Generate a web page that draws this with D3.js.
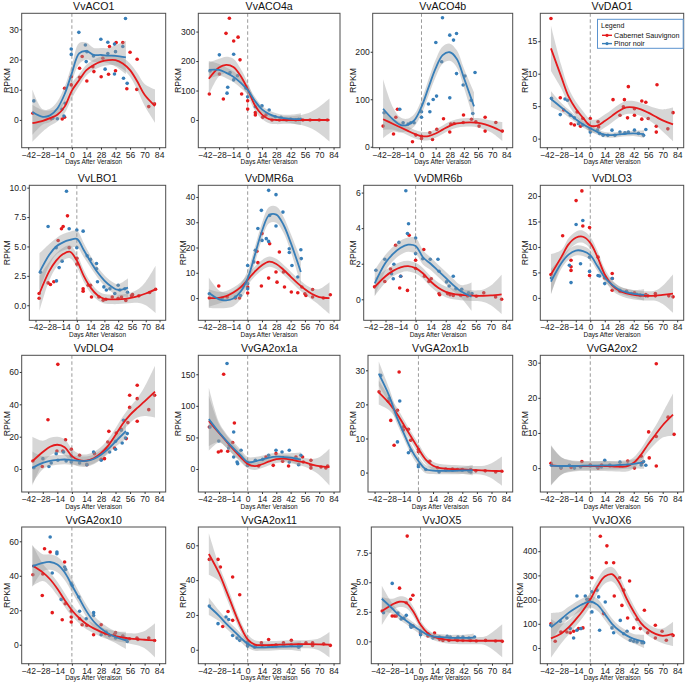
<!DOCTYPE html>
<html><head><meta charset="utf-8">
<script src="https://cdn.jsdelivr.net/npm/d3@7"></script>
<style>body{margin:0;background:#fff}svg text{font-family:"Liberation Sans",Arial,Helvetica,sans-serif}</style>
</head><body><svg id="c" width="685" height="685"></svg>
<script>
const genes = ["VvACO1","VvACO4a","VvACO4b","VvDAO1","VvLBO1","VvDMR6a","VvDMR6b","VvDLO3","VvDLO4","VvGA2ox1a","VvGA2ox1b","VvGA2ox2","VvGA2ox10","VvGA2ox11","VvJOX5","VvJOX6"];
const seriesNames = ["Cabernet Sauvignon","Pinor noir"];
const dayTicks = [-42,-28,-14,0,14,28,42,56,70,84];
const dayDomain = [-48.3,90.3];
const csDays = [-38,-28,-21,-14,-7,0,7,14,21,28,35,42,49,56,63,70,80];
const pnDays = [-38,-28,-21,-14,-7,0,7,14,21,28,35,42,52];
const yTicks = [[0,10,20,30],[0,100,200,300],[0,100,200],[0,5,10,15],[0,2.5,5,7.5,10],[0,10,20,30,40],[0,2,4,6],[0,5,10,15,20],[0,20,40,60],[0,50,100,150],[0,10,20,30],[0,10,20,30],[0,20,40,60],[0,20,40,60],[0,2.5,5,7.5],[0,100,200,300,400]];
const yDomains = [[-9.2,35.3],[-94,362],[-2,281],[-1.4,19.3],[-1.28,10.2],[-8.8,44.6],[-1.18,6.41],[-4.4,22.1],[-14.2,70.3],[-36.4,180],[-5.7,34.4],[-6.8,32.1],[-11,68.3],[-8,70.5],[-1.89,9.67],[-65,500]];

// Cabernet Sauvignon loess fit and band half-width at csDays
const csFit = [
[-1.1,-0.3,0.6,1.7,4.4,9.7,13.2,16.5,18.2,19.3,19.8,19.8,18.7,16.5,12.7,8.3,4.6],
[140,178,187,180,150,105,50,18,3,0,0,0,0,0,0,0,0],
[58,48,41,34,27,22.5,22.5,28,36,44,49,51,51.5,50.5,47,42,32],
[13.9,9.5,6.5,4.6,3.2,2.0,2.0,2.7,3.5,4.3,4.8,4.8,4.5,4.0,3.4,2.8,2.2],
[1.0,2.9,3.8,4.35,4.55,3.8,2.5,1.5,0.85,0.55,0.5,0.5,0.55,0.65,0.8,1.0,1.35],
[0,0.1,0.8,2.2,4.2,7.2,10.5,13,14.4,13.5,11.2,8.5,5.8,3.5,1.6,0.4,0.0],
[0.7,1.3,1.6,1.8,1.87,1.75,1.45,1.0,0.65,0.42,0.3,0.25,0.22,0.2,0.2,0.22,0.28],
[4.6,8.0,10.5,11.8,12.0,10.8,8.0,4.6,2.5,1.4,0.9,0.6,0.45,0.4,0.45,0.6,0.85],
[4.8,10.5,13.8,15.0,13.5,8.0,5.5,5.2,6.7,9.8,14.5,21,28,33.5,37.8,41.8,47.8],
[76,57,44,31,19,8,4.5,7.5,12,15.5,16.5,15,12.5,10.5,7,4.5,3],
[23.5,20.3,17.5,14.0,10.5,7.0,3.8,2.0,1.3,1.1,1.0,0.9,0.8,0.7,0.6,0.5,0.4],
[0.8,0.6,0.6,0.6,0.6,0.6,0.6,0.6,0.5,0.4,0.5,1.5,3.8,6.8,9.5,12.2,15.2],
[46,42,38,32.5,26,20,15.5,12,9.5,7.5,6,5,4.2,3.6,3.2,2.9,2.5],
[55,44,34,23.5,13.5,6,3,2.6,2.7,2.8,3,3.1,3.2,3.2,3.2,3.1,2.9],
[2.55,3.1,3.35,3.25,2.5,1.4,0.7,0.35,0.2,0.1,0.08,0.06,0.05,0.05,0.05,0.05,0.05],
[40,60,85,118,155,200,255,295,305,270,205,150,103,75,58,50,58]];
const csSe = [
[6.1,3.5,2.5,2.2,2.2,2.5,2.0,1.8,1.7,1.7,1.7,1.8,1.9,2.2,2.8,3.6,5.5],
[55,30,28,28,25,22,18,15,14,14,13,13,15,20,30,45,73],
[22,12,10,9,9,9,9,9,9,9,9,9,9,10,11,13,20],
[3.5,1.8,1.3,1.1,1.0,1.0,1.0,1.0,1.0,1.0,1.0,1.0,1.0,1.1,1.3,1.7,2.6],
[1.5,0.8,0.6,0.55,0.55,0.55,0.5,0.45,0.4,0.4,0.4,0.4,0.4,0.45,0.6,1.0,2.0],
[3.5,2.3,2,2,2,2,2,2,2,2,2,2,2,2,2.3,3.2,6.3],
[0.5,0.35,0.3,0.3,0.3,0.3,0.3,0.3,0.3,0.3,0.3,0.3,0.3,0.3,0.35,0.55,1.1],
[4,1.4,1.2,1.2,1.2,1.2,1.2,1.1,1.0,0.9,0.9,0.9,0.9,0.9,1.0,1.8,3.8],
[15.2,7,5.5,5,5,4.5,4,3.8,3.8,3.8,4,4.2,4.5,5,6,9,16],
[40,14,10,9,8,7,6,6,6,6,6,6,6,7,9,14,29],
[3.5,2,1.8,1.6,1.5,1.5,1.3,1.2,1.2,1.2,1.2,1.2,1.2,1.2,1.4,2.2,4.3],
[5.8,2.5,1.8,1.5,1.4,1.4,1.4,1.4,1.4,1.4,1.5,1.6,1.7,2,2.5,3.5,6],
[12,5,4,4,4,3.5,3,3,2.8,2.8,2.8,2.8,2.8,3,3.5,5,9.9],
[11.9,4.5,4,3.5,3,2.8,2.5,2.3,2.3,2.3,2.3,2.3,2.3,2.3,2.5,3.5,7.3],
[1.2,0.5,0.45,0.45,0.4,0.35,0.3,0.3,0.3,0.3,0.3,0.3,0.3,0.3,0.35,0.7,1.4],
[80,40,30,28,28,30,30,30,30,30,28,26,24,24,25,30,50]];

// Pinot noir loess fit and band half-width at pnDays
const pnFit = [
[2.6,1.0,1.5,3.8,8.5,15.5,22,22.8,21.5,21.5,21.3,21.2,20.7],
[170,170,160,147,127,102,65,36,20,11,6,4,3],
[80,57,46,46,56,84,125,165,193,199,185,145,85],
[6.1,4.8,3.9,3.0,2.2,1.6,1.0,0.6,0.55,0.65,0.75,0.8,0.7],
[2.8,4.3,5.0,5.35,5.55,5.65,4.7,3.7,2.8,2.1,1.6,1.3,1.5],
[2.1,-0.5,-0.9,-0.2,2.5,7.8,17,26.5,32.8,33,29,22,10.3],
[0.9,2.05,2.55,2.9,3.07,3.0,2.35,2.0,1.6,1.2,0.8,0.45,0.15],
[3.2,6.8,8.5,9.3,9.2,8.4,6.2,4.0,2.6,1.6,1.1,0.8,0.6],
[0.8,3.8,5.0,5.6,5.9,5.5,5.0,5.0,6.2,8.8,12.5,17.0,23.5],
[79,58,45,33,22,11,12,15,18,19.5,19,18,15],
[29,22.5,16.5,11.5,6.8,3.4,1.0,0.6,0.5,0.5,0.5,0.6,0.7],
[0.7,0.6,0.6,0.6,0.7,0.7,0.7,0.8,0.8,0.9,1.0,1.2,1.6],
[45.5,47.5,48,46.5,42,34.5,27,19.5,13.5,9.5,6.5,4.5,2.5],
[25,19.5,15,11,7,3.4,1.5,1.4,1.5,1.7,1.8,1.9,2.0],
[3.6,2.8,2.2,1.75,1.3,0.9,0.55,0.4,0.35,0.3,0.3,0.3,0.32],
[85,120,145,165,182,192,178,140,100,72,52,38,27]];
const pnSe = [
[7.5,2.5,2.2,2.3,2.5,2.8,3.5,2.8,2.3,2.3,2.5,3.5,5.5],
[30,20,18,18,18,16,14,12,12,12,12,14,20],
[62,25,16,13,13,15,17,18,18,18,18,20,30],
[1.2,0.7,0.6,0.5,0.5,0.5,0.4,0.4,0.4,0.4,0.4,0.4,0.6],
[1.6,0.9,0.7,0.7,0.7,0.7,0.6,0.5,0.45,0.45,0.45,0.5,0.8],
[6,3.5,3,3,3,3,3.2,3.2,3.2,3.2,3.2,3.5,5],
[0.75,0.45,0.4,0.4,0.4,0.45,0.4,0.35,0.35,0.35,0.35,0.35,0.8],
[2.5,1.1,1.0,1.0,1.0,1.0,0.9,0.8,0.7,0.7,0.7,0.75,1.1],
[10,4,3.2,3,3,3,2.8,2.8,2.8,2.8,3,3.3,5],
[50,16,11,10,9,8,7,6,6,6,6,7,11],
[3.6,2.2,1.8,1.6,1.5,1.4,1.2,1.0,1.0,1.0,1.0,1.0,1.5],
[5.5,2.5,1.6,1.3,1.2,1.2,1.2,1.2,1.2,1.2,1.2,1.3,1.8],
[12,5,4.5,4.5,4.5,4,3.5,3.5,3.5,3.5,3.5,3.5,5],
[5,3,2.8,2.6,2.5,2.3,2.1,2,2,2,2,2.1,3],
[1.1,0.45,0.35,0.3,0.3,0.3,0.25,0.25,0.25,0.25,0.25,0.25,0.35],
[60,30,25,25,25,25,25,24,22,20,20,20,28]];

// observed points [day, RPKM]
const csPoints = [
[[-37.5,2.2],[-19.9,0.4],[-9.3,0.3],[-7,0.9],[-7,10.5],[-0.6,14.3],[-0.6,11.6],[7.4,17.1],[7.4,14.1],[9.9,21],[14.4,12.9],[20.2,17.6],[21.2,16],[28.2,14.3],[29.8,20.4],[35.3,15.1],[36.2,24.3],[42,16.3],[42.6,25.6],[49,25.6],[52.9,10.3],[56,22.4],[62.5,10.1],[62.8,20.1],[74,4.4],[79.5,5.3]],
[[-37.5,88],[-27.7,156],[-23.8,71],[-21.2,294],[-17.9,345],[-13.7,268],[-9.4,281],[-7.5,204],[-5.9,88],[0,37],[0,65],[7.5,17],[7.5,25],[14.7,9],[17.9,17],[23.8,0],[31,0],[38,0],[47,0],[54,0],[61,0],[70,0],[78,0]],
[[-38,43.5],[-27.7,27],[-25.4,62],[-23.8,79],[-8.9,10.5],[-5.6,24.5],[0,17.5],[0,22],[8.3,29.5],[10.9,15.4],[15.2,36.5],[21.8,59],[28,31],[29,47.7],[32.3,49],[41.3,51],[41.6,66.7],[49.5,58],[53.8,52.6],[57,43.5],[63,62],[63,33],[73.6,51],[80,33]],
[[-38,18.5],[-29,6.3],[-25.7,4.4],[-18.6,2.3],[-15.3,2.1],[-12.7,4.1],[-9.4,1.9],[-7.2,3.1],[0,3.1],[0,1.5],[7.5,2.6],[8.1,1.8],[22,6],[28.7,3.6],[32,4.9],[33,6],[36,3.2],[36.8,8],[42.7,4.6],[42.7,3.6],[49.8,3],[49.8,5.8],[53.7,5.6],[56,3.1],[63.8,1.9],[63.8,1],[64.5,8.3],[75,1.5],[80,4]],
[[-38.3,1.0],[-38.3,0.6],[-29.2,1.9],[-26.8,1.76],[-23.4,2.0],[-19,5.5],[-15.6,6.5],[-13.9,6.7],[-9.5,7.6],[-7.8,4.9],[0,4.0],[0,3.5],[6.4,1.4],[6.4,1.2],[11.5,1.7],[13.9,1.7],[14.9,0.7],[22.4,0.7],[26.8,0.43],[29.5,0.5],[36,0.7],[42,0.6],[45.4,0.7],[49.8,0.4],[55.6,0.8],[56.6,0.9],[63,0.8],[74,1.08],[80,1.36]],
[[-37.5,0],[-28.3,4.75],[-20,0.4],[-12,0],[-8,0],[0,2],[0,4.4],[9,18.5],[10,14],[13.4,4.75],[14,25.5],[20.5,7.9],[21.5,21.5],[27.7,10.3],[28.7,6.3],[31,18.2],[35,10.3],[36,4.4],[42.7,2.4],[49,2.1],[53,4.4],[56,1.7],[57,1],[63.5,3.4],[63.5,0.4],[74,0],[80.8,1.3]],
[[-38.2,0.7],[-28.7,1.0],[-23.3,1.7],[-18.6,3.04],[-14.8,0.64],[-13.9,1.3],[-7.6,0.5],[-6,3.6],[0,2.2],[0,1.73],[7.6,2.8],[8.2,1.3],[12.3,1.0],[14.5,1.16],[21.8,0.32],[22.4,0.26],[29.7,0.32],[32,0.26],[35,0.22],[42,0.22],[48.3,0.19],[56.5,0.17],[63.4,0.37],[74.4,0.13],[80,0]],
[[-38,4.6],[-26.7,12.2],[-18.6,6.1],[-18.6,7.4],[-18.6,5.4],[-13.7,19.1],[-8.1,21],[-7.2,14.1],[-0.7,13.8],[-0.7,4.4],[7.5,8],[14,3.9],[21.2,4.8],[21.2,3.8],[21.2,1.5],[28.7,1.3],[35,1.3],[42.7,1],[48.2,0.5],[53.7,0.65],[55.6,0.4],[62.9,0.85],[62.9,0.4],[75.9,0.4],[80,0.2]],
[[-37.5,5],[-28.5,1.6],[-23,30.5],[-13.5,64.7],[-14.4,11.1],[-8.7,11.1],[-6.1,18.1],[-0.6,12.2],[7.4,8.5],[14.4,2.7],[21.8,9.5],[28.2,6],[31.4,6.4],[34.6,16.7],[35.6,23.3],[41,13],[42.7,22.3],[47.5,24.5],[52.3,18.8],[53.9,28.7],[55.6,45.6],[55.6,38.1],[62.9,51.8],[62.9,43.5],[62.9,29.5],[74,36.7],[79.6,45.6]],
[[-37.5,66.6],[-28.7,27],[-26,28.5],[-23.5,150],[-19.5,28],[-14.7,42],[-13,72.9],[0,5.8],[0,10],[10.7,4.8],[17.9,19],[25,5.8],[27.7,24.3],[34.2,12.2],[40,4.8],[47.2,19],[53.7,19],[54.4,11],[61.9,13.7],[61.9,5.8],[61.9,1.6],[71.7,3.2],[76.5,1.6],[78.2,4.8]],
[[-37.7,23.7],[-28.8,20.9],[-26.5,15.3],[-23.3,8],[-20.1,18.3],[-18.5,29.5],[-14.4,13.4],[-14.4,12.5],[-9.6,12.7],[-7.3,9.5],[0,6.8],[0,6.1],[10.9,3.3],[18.2,1.4],[26.2,1],[32.6,1],[37.4,0.9],[42,0.9],[50,0.9],[55,0.5],[64,0.5],[74,0.2],[79.9,0.4]],
[[-38,1.4],[-28.3,0],[-18.5,0.2],[-8.1,1.9],[0,0.9],[7.5,0],[11,0.9],[18.9,0.6],[28.7,0.6],[36.2,2],[42.7,0],[49.2,3.4],[49.8,1.5],[56.4,10.3],[57,2.9],[63.8,29.7],[63.8,9],[63.8,0.6],[75.2,14.5],[81,9.6]],
[[-37.5,40.6],[-28.5,28.6],[-28,41],[-26.3,55.7],[-20.9,53.8],[-18.9,18.6],[-9.3,14.5],[-7,48],[-6.4,23.8],[-0.6,13.2],[-0.6,16.1],[-0.6,19.5],[7.4,15.1],[9.9,11.6],[14.4,11.2],[20.9,5.8],[28.2,11.6],[32.4,6.4],[36.3,5.4],[41,6],[42,7],[49,5],[55.5,3.5],[62.6,3.9],[63.5,3.1],[74,3.9],[79.6,2.5]],
[[-37.5,51.9],[-29,51.9],[-26.7,47.5],[-24.4,13.4],[-19.2,22],[-14.7,41.8],[-14.7,16.9],[-7.8,31.6],[0,2.5],[0,4.4],[7.5,2.1],[13.4,4],[20.5,5.9],[27.7,2.9],[35,4],[42.7,5.4],[42.7,2.9],[49.8,2.9],[57,4],[63.5,4],[63.5,2.5],[74.3,3.4],[80.8,2.5]],
[[-37.6,2.57],[-27.8,2.14],[-25.5,2.14],[-23.9,2.14],[-20.6,4.5],[-14,3.27],[-13.1,8.9],[-9.8,3.55],[-7.5,3.9],[-7.5,1.3],[0,0.79],[0,0.65],[7.2,0.45],[13.7,0.7],[18.6,0.17],[21.9,0.08],[27.8,0.08],[34.3,0.17],[36,0.08],[41.5,0.08],[48.7,0.08],[54.6,0.03],[63.7,0.08],[73.5,0.03],[80,0]],
[[-38,100],[-33.9,28],[-28.4,66],[-22.6,66],[-19.4,63],[-16.1,69],[-11.3,80],[-7.1,83],[-1.6,200],[1.6,290],[9.7,462],[12.9,142],[15.5,352],[16.1,422],[22.6,352],[23.2,215],[28.4,290],[30.6,176],[32.3,239],[36.1,124],[38,277],[41.9,83],[45.2,119],[48.4,80],[52.3,156],[55.5,63],[62.9,94],[62.9,41],[69.4,69],[73.5,32],[80,52]]];
const pnPoints = [
[[-36.6,6.3],[-18.3,0.6],[-14,0.4],[-9.6,3.5],[-7.7,1.3],[-6.4,5.5],[-0.6,23.5],[-0.6,21.7],[6.7,29],[13,24.8],[13.8,19.3],[14.4,22.6],[20.8,21.2],[27.9,26.7],[32,16.8],[34.6,25.7],[34.6,22],[41,25.1],[41,15.2],[42,22.6],[49,24.3],[49.7,13.8],[51.6,33.6],[53.2,12.1]],
[[-36.8,166],[-27.7,221],[-20.2,91],[-19.5,111],[-17.3,161],[-13.7,223],[-13.7,136],[-10,150],[-1.6,108],[0,79],[7.5,45],[14,48],[21,34],[27,11],[32.6,9],[42,3],[49.8,2],[52,2]],
[[-37,71.6],[-21.5,79],[-18.2,50.5],[-13.2,47.7],[-10.6,50.5],[-7.3,50.5],[0,73.7],[0,62],[6.9,90],[8.3,73.7],[11.6,99.6],[14.2,219.6],[14.9,106.7],[20,179],[20.8,271.6],[28,235],[28,103],[31.7,224.6],[34.7,238.6],[34.7,154],[41.3,130],[43,149],[49.2,98],[50.8,70],[53,156.5]],
[[-37.5,6.2],[-29,3.7],[-24.4,6.1],[-22,5.9],[-19.2,3.6],[-15.3,3.2],[-11.4,2.3],[-7.2,2.1],[0,1],[0,1.5],[6.8,1.3],[9,0.8],[12.4,0.5],[17,0.5],[21,1.3],[23.8,0.5],[28.7,1],[33.5,0.9],[36.8,1],[42.7,1.3],[46.6,0.8],[51.5,0.5],[53.7,1.4]],
[[-37,2.8],[-29.2,6.7],[-21,4.9],[-20.7,2.07],[-18,3.2],[-15,3.75],[-10.5,9.7],[-7.8,6.5],[0,6.4],[0,4.9],[6.4,6.3],[10.5,4.2],[13.9,3.9],[20,3.55],[20,3.1],[21,2.0],[27.5,1.56],[30,1.3],[33.6,1.4],[38.6,1.0],[42,1.7],[43.7,1.3],[48.8,1.4],[51.5,1.1]],
[[-37.5,1.7],[-25,0],[-12,0.4],[-7,1],[0,12.9],[0,5.7],[0,3.7],[5.9,14.3],[7.5,18.9],[10,27.5],[13.4,34.7],[14,22.8],[18.2,23.5],[20.5,42.6],[20.5,22.4],[21.5,32.7],[27.7,28.5],[27.7,40.9],[34.5,34],[40.7,19.5],[40.7,18],[43.3,12.9],[49,8.3],[52,19.1],[52.4,15.6]],
[[-36.9,1.63],[-28.7,2.25],[-22.4,1.44],[-20.8,1.16],[-20.2,1.97],[-15.5,3.2],[-13.9,1.3],[-9.1,6.1],[-7.6,3.7],[-6.6,4.25],[0,3.45],[0,2.57],[6.6,2.28],[13.6,2.25],[20.8,2.25],[21.8,1.58],[28.7,0.98],[31.2,0.75],[35,1.3],[37.5,0.6],[42.9,0.56],[49.2,0.37],[52.4,0.32]],
[[-37.5,3.9],[-20.2,6.4],[-18.6,3.0],[-13.7,14.4],[-9.4,6.7],[-7.2,15.2],[-0.7,5.2],[-0.7,8],[7.5,4.4],[9,4.3],[14,2.8],[21.2,3.8],[28.7,1.5],[35,1.2],[40,0.85],[45,0.7],[48.2,0.5],[53.7,0.4]],
[[-36.6,0.8],[-27.9,6.4],[-22.1,1.6],[-19.9,3.7],[-15.1,9.5],[-13.5,5.4],[-8,10.5],[-5.5,5],[-0.6,8],[-0.6,4.3],[7.4,3.7],[14.4,2.7],[20.9,10.5],[28.2,5.4],[33,12.2],[36.3,10.5],[42,12.2],[42,17.1],[47.5,24],[48.4,16.1],[49.7,30.1],[51.6,19.2],[53.3,21.9]],
[[-36.8,66.6],[-28.3,44.4],[-20.2,167],[-18.6,33.3],[-17.9,37.5],[-13.7,58.6],[-13.7,19],[-10.4,11],[-9.8,8.5],[-6.5,29.6],[0,10],[0,5.8],[7.5,13.7],[14.7,15.3],[20.5,21.7],[27.7,29.6],[33.6,27],[40.7,29.6],[40.7,11],[47.2,16.4],[49.8,6.9],[52,21.7]],
[[-36.1,28.5],[-28.1,21.7],[-20.1,9],[-17.9,21],[-9.6,5.8],[-7.3,6.5],[0,2.2],[0,1.7],[7,0.9],[19.8,0.2],[26.2,0.7],[32.6,0.7],[42,0.7],[48.6,0.4],[50.2,0.2]],
[[-37.5,0.8],[-28.3,0.2],[-20.2,0.8],[-15.3,0],[-9.4,0.3],[0,0.6],[6.8,0.3],[10.7,0.3],[14,2.2],[18.9,0.9],[28.7,1.7],[36.2,0.9],[49.2,0.9],[51.5,1.9],[53.7,0.8]],
[[-36.6,45.7],[-20.9,62.5],[-18.9,41.6],[-14.4,53.8],[-14.4,52.8],[-10.3,26.3],[-7,45.1],[-6.1,43.7],[-0.6,35.4],[0.3,34.4],[6.7,27.7],[7.4,19.4],[13.8,15.1],[20.9,18.6],[20.9,17],[28.2,5.8],[33,7.4],[36.3,5.4],[42,3.9],[49,4.5],[52.3,3],[53.3,1.9]],
[[-37.5,25.1],[-29,15],[-21.2,18.8],[-18.6,17.4],[-14.7,8.2],[-10.4,6.7],[-7.8,5.4],[0,3.8],[0,2.1],[6.8,1.5],[14,2.5],[20.5,2.1],[27.7,2.1],[35,2.5],[42.7,2.5],[49.8,1.5],[52.4,2.5]],
[[-36.3,2.42],[-27.8,4.9],[-22.2,2.4],[-19,1.9],[-16.3,1.97],[-14,2.2],[-9.8,1.35],[-9.2,1.2],[-7.5,1.3],[0,0.56],[0,0.79],[7.2,0.65],[12.1,0.28],[18.6,0.37],[26.1,0.42],[29.1,0.37],[36.6,0.37],[41.5,0.37],[47.4,0.28],[52.9,0.37]],
[[-38,94],[-29,110],[-22.6,124],[-19.4,80],[-16.1,41],[-12.9,215],[-12.9,73],[-9,80],[-4.8,215],[-3.2,201],[1.6,232],[1.6,149],[6.5,239],[8.1,211],[9,73],[14.5,190],[21,83],[22.6,63],[29,114],[32.3,59],[35.5,69],[38.7,32],[42,28],[45.2,25],[50,22],[51.6,22]]];

// ---- layout ----
const rowTop = [13.3,185.3,355.3,527], rowBottom = [147.7,320.3,492,663.7];
const colRight = [165.7,340,512.7,683.7];
const plotLeft = [21.7,198.3,372.7,540.3, 29.3,198.3,363.7,540.3, 21.7,198.3,368,540.3, 21.7,198.3,371.3,540.3];
const COLORS = ["#E41A1C","#377EB8"];

const svg = d3.select("#c");
const yFmtFor = ticks => ticks.some(t => !Number.isInteger(t)) ? d3.format(".1f") : d3.format("d");

genes.forEach((g, i) => {
  const r = Math.floor(i / 4), c = i % 4;
  const L = plotLeft[i], R = colRight[c], T = rowTop[r], B = rowBottom[r];
  const x = d3.scaleLinear().domain(dayDomain).range([L, R]);
  const y = d3.scaleLinear().domain(yDomains[i]).range([B, T]);
  const gp = svg.append("g");
  gp.append("clipPath").attr("id", "cp" + i).append("rect")
    .attr("x", L).attr("y", T).attr("width", R - L).attr("height", B - T);
  const inner = gp.append("g").attr("clip-path", `url(#cp${i})`);

  inner.append("line").attr("x1", x(0)).attr("x2", x(0)).attr("y1", T).attr("y2", B)
    .attr("stroke", "#9a9a9a").attr("stroke-width", 1).attr("stroke-dasharray", "3.5,2.5");

  [csPoints[i], pnPoints[i]].forEach((pts, s) => {
    inner.append("g").selectAll("circle").data(pts).join("circle")
      .attr("cx", d => x(d[0])).attr("cy", d => y(d[1])).attr("r", 1.8)
      .attr("fill", COLORS[s]);
  });

  const fits = [
    csDays.map((d, k) => ({d, f: csFit[i][k], s: csSe[i][k]})),
    pnDays.map((d, k) => ({d, f: pnFit[i][k], s: pnSe[i][k]}))
  ];
  const area = d3.area().x(p => x(p.d)).y0(p => y(p.f - p.s)).y1(p => y(p.f + p.s))
    .curve(d3.curveCatmullRom.alpha(0.5));
  const line = d3.line().x(p => x(p.d)).y(p => y(p.f)).curve(d3.curveCatmullRom.alpha(0.5));
  fits.forEach(f => inner.append("path").attr("d", area(f)).attr("fill", "#999999").attr("fill-opacity", 0.4));
  fits.forEach((f, s) => inner.append("path").attr("d", line(f)).attr("fill", "none")
    .attr("stroke", COLORS[s]).attr("stroke-width", 1.8));

  gp.append("rect").attr("x", L).attr("y", T).attr("width", R - L).attr("height", B - T)
    .attr("fill", "none").attr("stroke", "#4d4d4d").attr("stroke-width", 1);

  const xa = gp.append("g").attr("transform", `translate(0,${B})`)
    .call(d3.axisBottom(x).tickValues(dayTicks).tickSize(2).tickPadding(1.8).tickFormat(d3.format("d")));
  xa.select(".domain").remove();
  xa.selectAll("line").attr("stroke", "#333");
  xa.selectAll("text").attr("font-size", "8.6px").attr("fill", "#222").attr("font-family", "Liberation Sans, Arial, sans-serif");

  const ya = gp.append("g").attr("transform", `translate(${L},0)`)
    .call(d3.axisLeft(y).tickValues(yTicks[i]).tickSize(2).tickPadding(1).tickFormat(yFmtFor(yTicks[i])));
  ya.select(".domain").remove();
  ya.selectAll("line").attr("stroke", "#333");
  ya.selectAll("text").attr("font-size", "8.6px").attr("fill", "#222").attr("font-family", "Liberation Sans, Arial, sans-serif");
  let maxW = 0;
  ya.selectAll("text").each(function () { maxW = Math.max(maxW, this.getComputedTextLength()); });

  gp.append("text").attr("transform", `translate(${L - maxW - 2.5},${(T + B) / 2}) rotate(-90)`)
    .attr("text-anchor", "middle").attr("font-size", "8.7px").attr("fill", "#111").text("RPKM");
  gp.append("text").attr("x", (L + R) / 2).attr("y", B + 16.5).attr("text-anchor", "middle")
    .attr("font-size", "6.5px").attr("fill", "#111").text("Days After Veraison");
  gp.append("text").attr("x", (L + R) / 2).attr("y", T - 3.5).attr("text-anchor", "middle")
    .attr("font-size", "10.6px").attr("fill", "#111").text(g);

  if (i === 3) {
    const lg = gp.append("g");
    lg.append("rect").attr("x", 597.5).attr("y", 19.3).attr("width", R - 597.5 - 0.5).attr("height", 29)
      .attr("fill", "#fff").attr("stroke", "#5b93cf").attr("stroke-width", 1);
    lg.append("text").attr("x", 601).attr("y", 27.5).attr("font-size", "7px").attr("fill", "#111").text("Legend");
    seriesNames.forEach((nm, s) => {
      const yy = 35.3 + s * 8.3;
      lg.append("line").attr("x1", 602).attr("x2", 612).attr("y1", yy).attr("y2", yy)
        .attr("stroke", COLORS[s]).attr("stroke-width", 1.4);
      lg.append("circle").attr("cx", 607).attr("cy", yy).attr("r", 1.6).attr("fill", COLORS[s]);
      lg.append("text").attr("x", 614).attr("y", yy + 2.5).attr("font-size", "7.2px").attr("fill", "#111").text(nm);
    });
  }
});
</script></body></html>
